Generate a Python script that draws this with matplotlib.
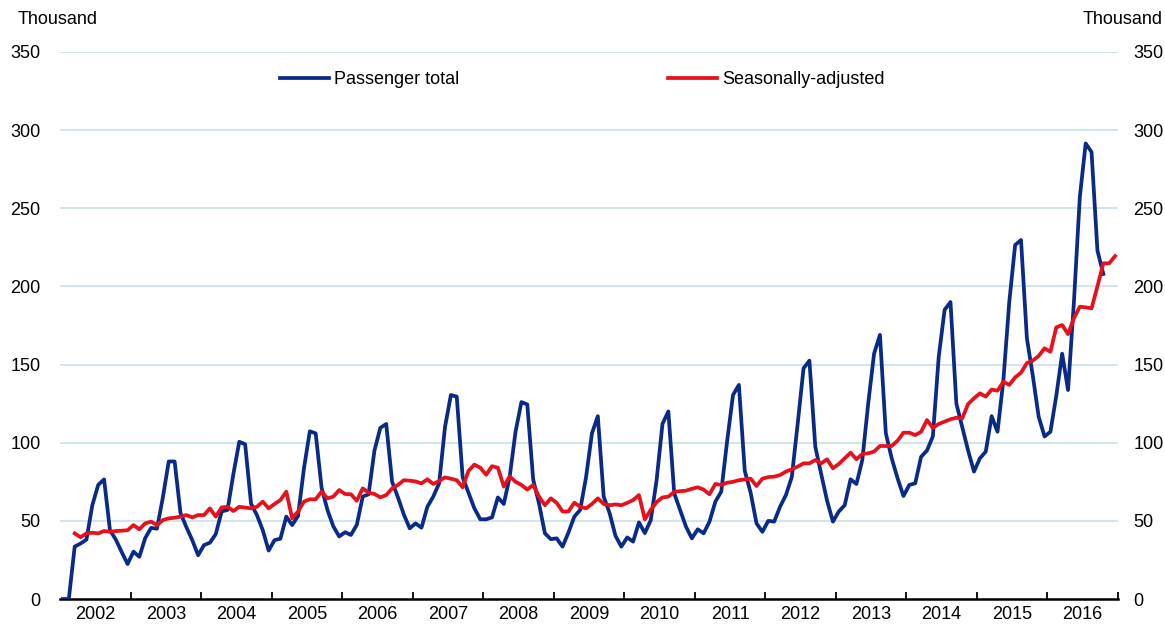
import numpy as np
import matplotlib
matplotlib.use("Agg")
import matplotlib.pyplot as plt

plt.rcParams['font.family'] = ['Liberation Sans Narrow', 'Liberation Sans', 'DejaVu Sans']

# monthly data from Jan 2002, thousand passengers
passenger_total = [
    0, 0, 33.5, 35.5, 38, 60, 73, 76.5, 44, 38, 30, 22.4,
    30.3, 27, 39, 45.5, 45, 65, 88, 88, 55, 46, 37.7, 28,
    34.5, 36, 41.5, 56, 57, 80, 100.6, 99, 61, 53.7, 44, 31,
    37.7, 38.6, 52.7, 47.3, 53.2, 83.5, 107.3, 106, 71.3, 57, 46.5, 40,
    42.7, 41, 47.5, 65.5, 67, 95, 109.5, 112, 75, 65, 54, 45.2,
    48.4, 45.6, 59, 65.5, 74, 110, 130.5, 129.5, 78, 68, 58, 51,
    51, 52.2, 65, 60.8, 78, 107, 126, 124.5, 76.5, 61, 42, 38.3,
    38.8, 33.5, 42.5, 52.7, 57, 78, 106, 117, 65.5, 55, 40.5, 33.5,
    39.4, 36.7, 49, 42.2, 50.3, 76, 112, 120, 67.6, 57, 46.3, 38.8,
    44.6, 42, 49.5, 62.3, 68.7, 101, 130.5, 137, 82, 68, 48.4, 43,
    50, 49.5, 59, 66.5, 78, 112, 147.6, 152.5, 97.5, 80, 63, 49.5,
    56, 60, 76.6, 73.6, 89, 125, 157, 169, 106, 90, 77.2, 65.9,
    73, 74, 91, 95, 104, 155, 185, 190, 125, 110, 95, 81.5,
    90, 94.3, 117, 107, 140, 190, 226.5, 229.7, 166.8, 143, 116.7, 104,
    107, 130, 157, 133.7, 190, 257, 291.5, 286, 223, 208,
]

seasonally_adjusted = [
    np.nan, np.nan, 42, 39.5, 42, 42.4, 42, 43.5, 43, 43.5, 43.7, 44,
    47.3, 44.6, 48.4, 49.5, 47.3, 50.5, 51.6, 52, 52.7, 53.7, 52.2, 53.7,
    53.7, 58, 52.7, 58.6, 59, 56.3, 59, 58.5, 58, 59, 62.3, 58,
    60.8, 63.3, 68.7, 51.6, 56, 62.3, 63.8, 63.8, 68.7, 64.4, 65.5, 69.7,
    67.2, 67, 62.9, 70.8, 68, 67.2, 65, 66.5, 70.8, 73, 76, 75.7,
    75.2, 74, 76.6, 73.6, 75.5, 77.8, 77, 76, 71.5, 82, 86, 84,
    79.5, 85, 84, 72, 78.5, 75, 73, 70, 73, 65.5, 60, 64.4,
    61.5, 56, 56, 61.6, 59, 58, 60.8, 64.4, 60.8, 60, 60.5, 60,
    61.5, 63.3, 66.5, 51, 57, 62, 65, 65.5, 68.5, 69, 69.3, 70.5,
    71.5, 70, 67, 73.6, 73, 74.4, 75, 76, 76.5, 77, 72.3, 77,
    78, 78.3, 79.3, 81.5, 83, 84.7, 86.8, 86.8, 88.9, 86.8, 89.4, 83.6,
    86.4, 90, 93.6, 89.4, 92.8, 93.2, 94.3, 97.9, 97.9, 97.9, 101.3, 106.4,
    106.4, 104.9, 107, 114.5, 109.5, 112, 113.5, 115, 116, 115.6, 124.8, 128.4,
    131.6, 129.5, 134, 133.3, 139, 137, 141.8, 144.8, 151, 152.5, 155.5, 160.4,
    158.2, 173.8, 175.3, 169.5, 179.6, 187, 186.6, 186, 200, 214.8, 214.8, 219.4,
]

years = list(range(2002, 2017))
start_year = 2002

blue = '#0a2a88'
red = '#e8101a'
fs = 13

x_total = start_year + (np.arange(len(passenger_total)) + 0.5) / 12
x_sa = start_year + (np.arange(len(seasonally_adjusted)) + 0.5) / 12

fig = plt.figure(figsize=(11.65, 6.31), dpi=100)
ax = fig.add_axes([60 / 1165, 1 - 599 / 631, (1118 - 60) / 1165, (599 - 52) / 631])

for v in range(50, 351, 50):
    ax.axhline(v, color='#c8e0ea', lw=1.2, zorder=0)

l_total, = ax.plot(x_total, passenger_total, color=blue, lw=2.7, zorder=3)
l_sa, = ax.plot(x_sa, seasonally_adjusted, color=red, lw=2.7, zorder=4)

ax.set_xlim(2002, 2017)
ax.set_ylim(0, 350)

for s in ['top', 'left', 'right']:
    ax.spines[s].set_visible(False)
ax.spines['bottom'].set_linewidth(1.8)
ax.spines['bottom'].set_color('black')

ax.set_xticks(range(2003, 2018))
ax.set_xticklabels([])
ax.set_xticks([y + 0.5 for y in years], minor=True)
ax.set_xticklabels([str(y) for y in years], minor=True, fontsize=fs)
ax.tick_params(axis='x', which='major', direction='in', length=5, width=1.3, color='black')
ax.tick_params(axis='x', which='minor', length=0, pad=5)

yt = list(range(0, 351, 50))
ax.set_yticks(yt)
ax.set_yticklabels([str(v) for v in yt], fontsize=fs)
ax.tick_params(axis='y', length=0, pad=14)

# right-hand scale
ax2 = ax.twinx()
ax2.set_ylim(0, 350)
ax2.set_yticks(yt)
ax2.set_yticklabels([str(v) for v in yt], fontsize=fs)
ax2.tick_params(axis='y', length=0, pad=11)
for s in ['top', 'left', 'right', 'bottom']:
    ax2.spines[s].set_visible(False)

fig.text(18 / 1165, 1 - 20 / 631, 'Thousand', fontsize=fs, ha='left', va='center')
fig.text(1163 / 1165, 1 - 20 / 631, 'Thousand', fontsize=fs, ha='right', va='center')

fig.legend([l_total], ['Passenger total'], loc='center left', bbox_to_anchor=(280 / 1165, 1 - 80 / 631),
           frameon=False, fontsize=fs, handlelength=2.7, handletextpad=0.3, borderpad=0, borderaxespad=0)
fig.legend([l_sa], ['Seasonally-adjusted'], loc='center left', bbox_to_anchor=(668 / 1165, 1 - 80 / 631),
           frameon=False, fontsize=fs, handlelength=2.7, handletextpad=0.3, borderpad=0, borderaxespad=0)

fig.savefig('out.png', dpi=100)
